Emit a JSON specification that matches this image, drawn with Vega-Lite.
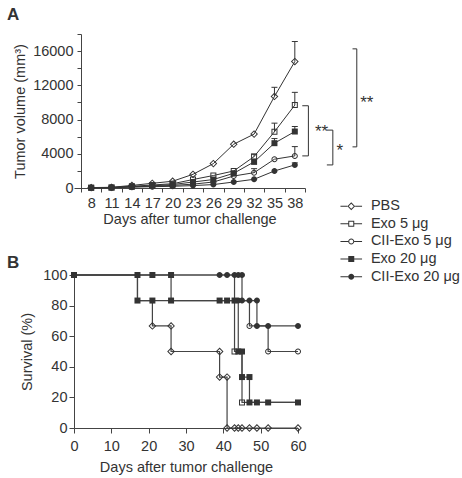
{
  "$schema": "https://vega.github.io/schema/vega-lite/v6.json",
  "padding": {"left": 7, "top": 5, "right": 5, "bottom": 5},
  "bounds": "flush",
  "spacing": 87,
  "config": {
    "font": "Liberation Sans",
    "view": {"stroke": null},
    "axis": {"labelFont": "Liberation Sans", "titleFont": "Liberation Sans", "labelFontSize": 14.5, "titleFontSize": 14.5, "labelColor": "#333", "titleColor": "#333", "titleFontWeight": "normal", "domainColor": "#444", "tickColor": "#444", "grid": false, "labelOverlap": false, "tickCount": 100},
    "legend": {"labelFont": "Liberation Sans", "labelFontSize": 14.5, "labelColor": "#333"},
    "title": {"font": "Liberation Sans", "color": "#333"}
  },
  "resolve": {"scale": {"shape": "independent"}, "legend": {"shape": "independent"}},
  "datasets": {
    "tumor": [
      {"g": "PBS", "day": 8, "v": 50}, {"g": "PBS", "day": 11, "v": 80}, {"g": "PBS", "day": 14, "v": 300}, {"g": "PBS", "day": 17, "v": 550}, {"g": "PBS", "day": 20, "v": 790}, {"g": "PBS", "day": 23, "v": 1600}, {"g": "PBS", "day": 26, "v": 2850}, {"g": "PBS", "day": 29, "v": 5120}, {"g": "PBS", "day": 32, "v": 6300}, {"g": "PBS", "day": 35, "v": 10700, "hi": 11770}, {"g": "PBS", "day": 38, "v": 14780, "hi": 17120},
      {"g": "Exo 5 μg", "day": 8, "v": 30}, {"g": "Exo 5 μg", "day": 11, "v": 60}, {"g": "Exo 5 μg", "day": 14, "v": 200}, {"g": "Exo 5 μg", "day": 17, "v": 350}, {"g": "Exo 5 μg", "day": 20, "v": 500}, {"g": "Exo 5 μg", "day": 23, "v": 990}, {"g": "Exo 5 μg", "day": 26, "v": 1460}, {"g": "Exo 5 μg", "day": 29, "v": 1990}, {"g": "Exo 5 μg", "day": 32, "v": 3670, "hi": 3950}, {"g": "Exo 5 μg", "day": 35, "v": 6570, "hi": 7580}, {"g": "Exo 5 μg", "day": 38, "v": 9690, "hi": 11180},
      {"g": "CII-Exo 5 μg", "day": 8, "v": 30}, {"g": "CII-Exo 5 μg", "day": 11, "v": 50}, {"g": "CII-Exo 5 μg", "day": 14, "v": 150}, {"g": "CII-Exo 5 μg", "day": 17, "v": 200}, {"g": "CII-Exo 5 μg", "day": 20, "v": 300}, {"g": "CII-Exo 5 μg", "day": 23, "v": 450}, {"g": "CII-Exo 5 μg", "day": 26, "v": 700}, {"g": "CII-Exo 5 μg", "day": 29, "v": 1400}, {"g": "CII-Exo 5 μg", "day": 32, "v": 1790, "hi": 2260}, {"g": "CII-Exo 5 μg", "day": 35, "v": 3365}, {"g": "CII-Exo 5 μg", "day": 38, "v": 3750, "hi": 4840},
      {"g": "Exo 20 μg", "day": 8, "v": 30}, {"g": "Exo 20 μg", "day": 11, "v": 50}, {"g": "Exo 20 μg", "day": 14, "v": 150}, {"g": "Exo 20 μg", "day": 17, "v": 250}, {"g": "Exo 20 μg", "day": 20, "v": 400}, {"g": "Exo 20 μg", "day": 23, "v": 700}, {"g": "Exo 20 μg", "day": 26, "v": 990}, {"g": "Exo 20 μg", "day": 29, "v": 1720}, {"g": "Exo 20 μg", "day": 32, "v": 3050}, {"g": "Exo 20 μg", "day": 35, "v": 5240, "hi": 5780}, {"g": "Exo 20 μg", "day": 38, "v": 6600, "hi": 7190},
      {"g": "CII-Exo 20 μg", "day": 8, "v": 20}, {"g": "CII-Exo 20 μg", "day": 11, "v": 40}, {"g": "CII-Exo 20 μg", "day": 14, "v": 100}, {"g": "CII-Exo 20 μg", "day": 17, "v": 150}, {"g": "CII-Exo 20 μg", "day": 20, "v": 200}, {"g": "CII-Exo 20 μg", "day": 23, "v": 280}, {"g": "CII-Exo 20 μg", "day": 26, "v": 400}, {"g": "CII-Exo 20 μg", "day": 29, "v": 700}, {"g": "CII-Exo 20 μg", "day": 32, "v": 1020}, {"g": "CII-Exo 20 μg", "day": 35, "v": 1990}, {"g": "CII-Exo 20 μg", "day": 38, "v": 2700, "hi": 2940}
    ],
    "brackets": [
      {"x": 47.13, "x2": 47.13, "y": 16264, "y2": 4808}, {"x": 46.5, "x2": 47.13, "y": 16264, "y2": 16264}, {"x": 46.5, "x2": 47.13, "y": 4808, "y2": 4808},
      {"x": 40.0, "x2": 40.0, "y": 9615, "y2": 3752}, {"x": 39.1, "x2": 40.0, "y": 9615, "y2": 9615}, {"x": 39.1, "x2": 40.0, "y": 3752, "y2": 3752},
      {"x": 43.6, "x2": 43.6, "y": 6766, "y2": 2697}, {"x": 42.72, "x2": 43.6, "y": 6766, "y2": 6766}, {"x": 42.72, "x2": 43.6, "y": 2697, "y2": 2697}
    ],
    "stars": [
      {"label": "**", "x": 40.96, "y": 7071},
      {"label": "*", "x": 44.15, "y": 4808},
      {"label": "**", "x": 47.63, "y": 10400}
    ],
    "survLine": [
      {"g": "PBS", "day": 0, "s": 100}, {"g": "PBS", "day": 17, "s": 83.3}, {"g": "PBS", "day": 21, "s": 66.7}, {"g": "PBS", "day": 26, "s": 50}, {"g": "PBS", "day": 39, "s": 33.3}, {"g": "PBS", "day": 41, "s": 0}, {"g": "PBS", "day": 60, "s": 0},
      {"g": "Exo 5 μg", "day": 0, "s": 100}, {"g": "Exo 5 μg", "day": 43, "s": 50}, {"g": "Exo 5 μg", "day": 45, "s": 16.7}, {"g": "Exo 5 μg", "day": 60, "s": 16.7},
      {"g": "CII-Exo 5 μg", "day": 0, "s": 100}, {"g": "CII-Exo 5 μg", "day": 26, "s": 83.3}, {"g": "CII-Exo 5 μg", "day": 47, "s": 66.7}, {"g": "CII-Exo 5 μg", "day": 52, "s": 50}, {"g": "CII-Exo 5 μg", "day": 60, "s": 50},
      {"g": "Exo 20 μg", "day": 0, "s": 100}, {"g": "Exo 20 μg", "day": 17, "s": 83.3}, {"g": "Exo 20 μg", "day": 44, "s": 50}, {"g": "Exo 20 μg", "day": 45, "s": 33.3}, {"g": "Exo 20 μg", "day": 47, "s": 16.7}, {"g": "Exo 20 μg", "day": 60, "s": 16.7},
      {"g": "CII-Exo 20 μg", "day": 0, "s": 100}, {"g": "CII-Exo 20 μg", "day": 45, "s": 83.3}, {"g": "CII-Exo 20 μg", "day": 49, "s": 66.7}, {"g": "CII-Exo 20 μg", "day": 60, "s": 66.7}
    ],
    "survPts": [
      {"g": "PBS", "day": 21, "s": 66.7}, {"g": "PBS", "day": 26, "s": 66.7}, {"g": "PBS", "day": 26, "s": 50}, {"g": "PBS", "day": 39, "s": 50}, {"g": "PBS", "day": 39, "s": 33.3}, {"g": "PBS", "day": 41, "s": 33.3}, {"g": "PBS", "day": 41, "s": 0}, {"g": "PBS", "day": 43, "s": 0}, {"g": "PBS", "day": 44, "s": 0}, {"g": "PBS", "day": 45, "s": 0}, {"g": "PBS", "day": 47, "s": 0}, {"g": "PBS", "day": 49, "s": 0}, {"g": "PBS", "day": 52, "s": 0}, {"g": "PBS", "day": 60, "s": 0},
      {"g": "Exo 5 μg", "day": 43, "s": 50}, {"g": "Exo 5 μg", "day": 45, "s": 16.7},
      {"g": "CII-Exo 5 μg", "day": 47, "s": 66.7}, {"g": "CII-Exo 5 μg", "day": 52, "s": 50}, {"g": "CII-Exo 5 μg", "day": 60, "s": 50},
      {"g": "CII-Exo 20 μg", "day": 39, "s": 100}, {"g": "CII-Exo 20 μg", "day": 41, "s": 100}, {"g": "CII-Exo 20 μg", "day": 43, "s": 100}, {"g": "CII-Exo 20 μg", "day": 44, "s": 100}, {"g": "CII-Exo 20 μg", "day": 45, "s": 100}, {"g": "CII-Exo 20 μg", "day": 44, "s": 83.3}, {"g": "CII-Exo 20 μg", "day": 45, "s": 83.3}, {"g": "CII-Exo 20 μg", "day": 47, "s": 83.3}, {"g": "CII-Exo 20 μg", "day": 49, "s": 83.3}, {"g": "CII-Exo 20 μg", "day": 49, "s": 66.7}, {"g": "CII-Exo 20 μg", "day": 52, "s": 66.7}, {"g": "CII-Exo 20 μg", "day": 60, "s": 66.7},
      {"g": "Exo 20 μg", "day": 0, "s": 100}, {"g": "Exo 20 μg", "day": 17, "s": 100}, {"g": "Exo 20 μg", "day": 21, "s": 100}, {"g": "Exo 20 μg", "day": 26, "s": 100}, {"g": "Exo 20 μg", "day": 17, "s": 83.3}, {"g": "Exo 20 μg", "day": 21, "s": 83.3}, {"g": "Exo 20 μg", "day": 26, "s": 83.3}, {"g": "Exo 20 μg", "day": 39, "s": 83.3}, {"g": "Exo 20 μg", "day": 41, "s": 83.3}, {"g": "Exo 20 μg", "day": 43, "s": 83.3}, {"g": "Exo 20 μg", "day": 44, "s": 50}, {"g": "Exo 20 μg", "day": 45, "s": 50}, {"g": "Exo 20 μg", "day": 45, "s": 33.3}, {"g": "Exo 20 μg", "day": 47, "s": 33.3}, {"g": "Exo 20 μg", "day": 47, "s": 16.7}, {"g": "Exo 20 μg", "day": 49, "s": 16.7}, {"g": "Exo 20 μg", "day": 52, "s": 16.7}, {"g": "Exo 20 μg", "day": 60, "s": 16.7}
    ]
  },
  "vconcat": [
    {
      "title": {"text": "A", "anchor": "start", "frame": "group", "dx": -67, "fontSize": 17, "fontWeight": "bold", "baseline": "alphabetic", "offset": -10.5},
      "width": 231,
      "height": 154,
      "resolve": {"scale": {"shape": "independent"}, "legend": {"shape": "independent"}},
      "layer": [
        {
          "data": {"name": "tumor"},
          "mark": {"type": "line", "stroke": "#333", "strokeWidth": 1},
          "encoding": {
            "x": {"field": "day", "type": "quantitative", "title": "Days after tumor challenge", "scale": {"domain": [5.47, 39.5], "nice": false, "zero": false},
              "axis": {"values": [6.5, 9.5, 12.5, 15.5, 18.5, 21.5, 24.5, 27.5, 30.5, 33.5, 36.5, 39.5], "tickCount": 100, "labelExpr": "datum.value < 39 ? '' + (datum.value + 1.5) : ''", "labelOffset": 10.2, "tickSize": 4, "labelPadding": 4, "titlePadding": 3, "labelFlush": false, "labelOverlap": false}},
            "y": {"field": "v", "type": "quantitative", "title": "Tumor volume (mm³)", "scale": {"domain": [0, 18000], "nice": false},
              "axis": {"values": [0, 2000, 4000, 6000, 8000, 10000, 12000, 14000, 16000, 18000], "tickCount": 100, "labelExpr": "datum.value % 4000 == 0 ? datum.label : ''", "offset": -7, "tickSize": 4, "labelPadding": 4, "titlePadding": 5, "format": "d", "labelOverlap": false}},
            "detail": {"field": "g"}
          }
        },
        {
          "data": {"name": "tumor"},
          "transform": [{"filter": "isValid(datum.hi)"}],
          "mark": {"type": "rule", "stroke": "#333", "strokeWidth": 1},
          "encoding": {
            "x": {"field": "day", "type": "quantitative", "title": "Days after tumor challenge"},
            "y": {"field": "v", "type": "quantitative", "title": "Tumor volume (mm³)"},
            "y2": {"field": "hi"}
          }
        },
        {
          "data": {"name": "tumor"},
          "transform": [{"filter": "isValid(datum.hi)"}],
          "mark": {"type": "tick", "orient": "horizontal", "size": 6, "thickness": 1, "color": "#333", "opacity": 1},
          "encoding": {
            "x": {"field": "day", "type": "quantitative", "title": "Days after tumor challenge"},
            "y": {"field": "hi", "type": "quantitative", "title": "Tumor volume (mm³)"}
          }
        },
        {
          "data": {"name": "tumor"},
          "mark": {"type": "point", "filled": true, "size": 36, "color": "#333", "strokeWidth": 0, "opacity": 1},
          "encoding": {
            "x": {"field": "day", "type": "quantitative", "title": "Days after tumor challenge"},
            "y": {"field": "v", "type": "quantitative", "title": "Tumor volume (mm³)"},
            "shape": {"field": "g", "type": "nominal", "legend": null,
              "scale": {"domain": ["PBS", "Exo 5 μg", "CII-Exo 5 μg", "Exo 20 μg", "CII-Exo 20 μg"],
                "range": ["M-1.3,0L0,-1.3L1.3,0L0,1.3Z M-0.85,0L0,0.85L0.85,0L0,-0.85Z", "M-1,-1L1,-1L1,1L-1,1Z M-0.67,-0.67L-0.67,0.67L0.67,0.67L0.67,-0.67Z", "M-1,0A1,1,0,1,1,1,0A1,1,0,1,1,-1,0Z M-0.67,0A0.67,0.67,0,1,0,0.67,0A0.67,0.67,0,1,0,-0.67,0Z", "M-1,-1L1,-1L1,1L-1,1Z", "M-1,0A1,1,0,1,1,1,0A1,1,0,1,1,-1,0Z"]}}
          }
        },
        {
          "data": {"name": "tumor"},
          "transform": [{"filter": "datum.day < 0"}],
          "mark": {"type": "point", "filled": true, "size": 36, "color": "#333", "strokeWidth": 0, "opacity": 1},
          "encoding": {
            "x": {"field": "day", "type": "quantitative", "title": "Days after tumor challenge"},
            "y": {"field": "v", "type": "quantitative", "title": "Tumor volume (mm³)"},
            "shape": {"field": "g", "type": "nominal",
              "scale": {"domain": ["PBS", "Exo 5 μg", "CII-Exo 5 μg", "Exo 20 μg", "CII-Exo 20 μg"],
                "range": ["M-3.6,-0.17L-1.3,-0.17L-1.3,0.17L-3.6,0.17Z M1.3,-0.17L3.6,-0.17L3.6,0.17L1.3,0.17Z M-1.3,0L0,-1.3L1.3,0L0,1.3Z M-0.85,0L0,0.85L0.85,0L0,-0.85Z", "M-3.6,-0.17L-1,-0.17L-1,0.17L-3.6,0.17Z M1,-0.17L3.6,-0.17L3.6,0.17L1,0.17Z M-1,-1L1,-1L1,1L-1,1Z M-0.67,-0.67L-0.67,0.67L0.67,0.67L0.67,-0.67Z", "M-3.6,-0.17L-1,-0.17L-1,0.17L-3.6,0.17Z M1,-0.17L3.6,-0.17L3.6,0.17L1,0.17Z M-1,0A1,1,0,1,1,1,0A1,1,0,1,1,-1,0Z M-0.67,0A0.67,0.67,0,1,0,0.67,0A0.67,0.67,0,1,0,-0.67,0Z", "M-3.6,-0.17L-1,-0.17L-1,0.17L-3.6,0.17Z M1,-0.17L3.6,-0.17L3.6,0.17L1,0.17Z M-1,-1L1,-1L1,1L-1,1Z", "M-3.6,-0.17L-1,-0.17L-1,0.17L-3.6,0.17Z M1,-0.17L3.6,-0.17L3.6,0.17L1,0.17Z M-1,0A1,1,0,1,1,1,0A1,1,0,1,1,-1,0Z"]},
              "legend": {"title": null, "orient": "none", "legendX": 270, "legendY": 165, "symbolSize": 36, "labelOffset": 12.4, "rowPadding": 2.6, "symbolFillColor": "#333", "symbolStrokeWidth": 0}}
          }
        },
        {
          "data": {"name": "brackets"},
          "mark": {"type": "rule", "stroke": "#333", "strokeWidth": 1},
          "encoding": {
            "x": {"field": "x", "type": "quantitative", "title": "Days after tumor challenge"},
            "x2": {"field": "x2"},
            "y": {"field": "y", "type": "quantitative", "title": "Tumor volume (mm³)"},
            "y2": {"field": "y2"}
          }
        },
        {
          "data": {"name": "stars"},
          "mark": {"type": "text", "align": "left", "baseline": "middle", "dy": 4, "fontSize": 17, "color": "#333", "font": "Liberation Sans"},
          "encoding": {
            "x": {"field": "x", "type": "quantitative", "title": "Days after tumor challenge"},
            "y": {"field": "y", "type": "quantitative", "title": "Tumor volume (mm³)"},
            "text": {"field": "label"}
          }
        }
      ]
    },
    {
      "title": {"text": "B", "anchor": "start", "frame": "group", "dx": -67, "fontSize": 17, "fontWeight": "bold", "baseline": "alphabetic", "offset": -18},
      "width": 224,
      "height": 153,
      "layer": [
        {
          "data": {"name": "survLine"},
          "mark": {"type": "line", "interpolate": "step-after", "stroke": "#444", "strokeWidth": 1.2},
          "encoding": {
            "x": {"field": "day", "type": "quantitative", "title": "Days after tumor challenge", "scale": {"domain": [0, 60], "nice": false},
              "axis": {"values": [0, 10, 20, 30, 40, 50, 60], "tickCount": 100, "format": "d", "tickSize": 5, "labelPadding": 6, "titlePadding": 8, "labelFlush": false, "labelOverlap": false}},
            "y": {"field": "s", "type": "quantitative", "title": "Survival (%)", "scale": {"domain": [0, 100], "nice": false},
              "axis": {"values": [0, 20, 40, 60, 80, 100], "tickCount": 100, "format": "d", "tickSize": 5, "labelPadding": 2, "titlePadding": 8, "labelOverlap": false}},
            "detail": {"field": "g"}
          }
        },
        {
          "data": {"name": "survPts"},
          "mark": {"type": "point", "filled": true, "size": 36, "color": "#333", "strokeWidth": 0, "opacity": 1},
          "encoding": {
            "x": {"field": "day", "type": "quantitative", "title": "Days after tumor challenge"},
            "y": {"field": "s", "type": "quantitative", "title": "Survival (%)"},
            "shape": {"field": "g", "type": "nominal", "legend": null,
              "scale": {"domain": ["PBS", "Exo 5 μg", "CII-Exo 5 μg", "Exo 20 μg", "CII-Exo 20 μg"],
                "range": ["M-1.3,0L0,-1.3L1.3,0L0,1.3Z M-0.85,0L0,0.85L0.85,0L0,-0.85Z", "M-1,-1L1,-1L1,1L-1,1Z M-0.67,-0.67L-0.67,0.67L0.67,0.67L0.67,-0.67Z", "M-1,0A1,1,0,1,1,1,0A1,1,0,1,1,-1,0Z M-0.67,0A0.67,0.67,0,1,0,0.67,0A0.67,0.67,0,1,0,-0.67,0Z", "M-1,-1L1,-1L1,1L-1,1Z", "M-1,0A1,1,0,1,1,1,0A1,1,0,1,1,-1,0Z"]}}
          }
        }
      ]
    }
  ]
}
